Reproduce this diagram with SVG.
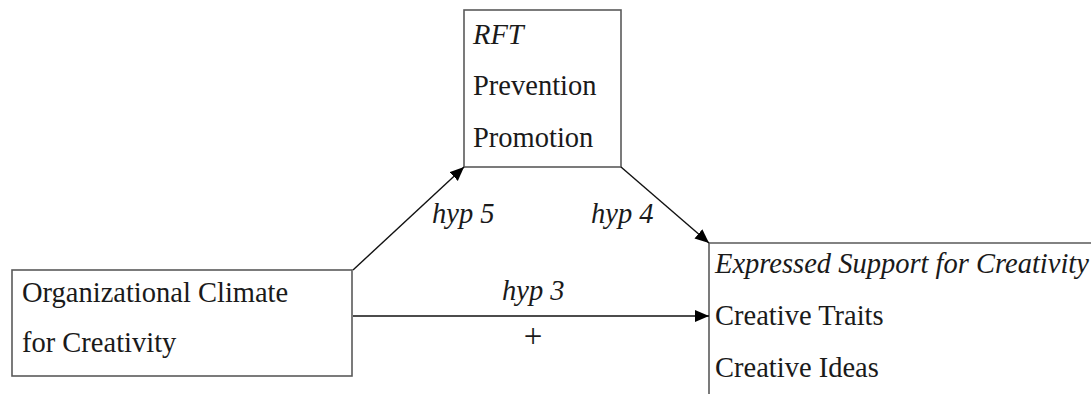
<svg xmlns="http://www.w3.org/2000/svg" width="1091" height="394" viewBox="0 0 1091 394">
<style>
.box{fill:#fff;stroke:#5a5a5a;stroke-width:1.6}
.t{font-family:Liberation Serif, Times New Roman, serif;font-size:28.5px;fill:#1a1a1a}
.i{font-style:italic}
.c{stroke:#111;stroke-width:1.4;fill:none}
</style>
<defs>
<marker id="ah" markerUnits="userSpaceOnUse" markerWidth="15" markerHeight="13" refX="14" refY="6" orient="auto">
<path d="M0,0 L14,6 L0,12 z" fill="#000"/>
</marker>
</defs>
<rect width="1091" height="394" fill="#fff"/>
<g id="rft">
<rect class="box" x="464" y="10" width="157" height="157"/>
<text class="t i" x="473" y="44">RFT</text>
<text class="t" x="473" y="95">Prevention</text>
<text class="t" x="473" y="147">Promotion</text>
</g>
<g id="climate">
<rect class="box" x="12" y="270" width="340" height="106"/>
<text class="t" x="22" y="302">Organizational Climate</text>
<text class="t" x="22" y="352">for Creativity</text>
</g>
<g id="support">
<path class="box" d="M1092,243 H709 V395"/>
<text class="t i" x="715" y="273">Expressed Support for Creativity</text>
<text class="t" x="715" y="325">Creative Traits</text>
<text class="t" x="715" y="377">Creative Ideas</text>
</g>
<g id="connectors">
<line class="c" x1="353" y1="270" x2="464" y2="167" marker-end="url(#ah)"/>
<line class="c" x1="621" y1="167" x2="709" y2="243" marker-end="url(#ah)"/>
<line class="c" x1="353" y1="316" x2="709" y2="316" marker-end="url(#ah)"/>
<text class="t i" x="432" y="223">hyp 5</text>
<text class="t i" x="591" y="223">hyp 4</text>
<text class="t i" x="502" y="300">hyp 3</text>
<text class="t" x="533" y="347" text-anchor="middle" style="font-size:33px">+</text>
</g>
</svg>
